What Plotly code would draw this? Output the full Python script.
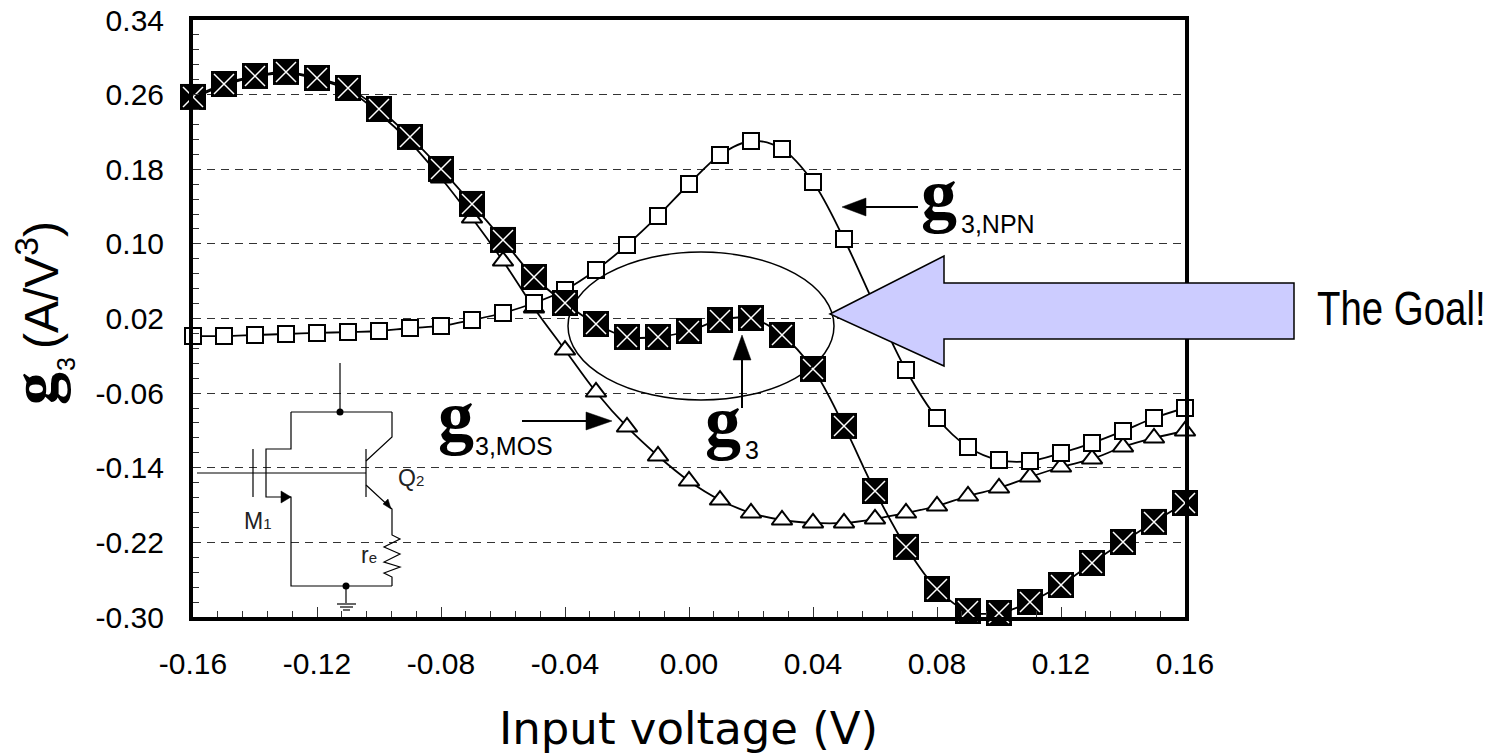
import plotly.graph_objects as go

voltage = [-0.16,-0.15,-0.14,-0.13,-0.12,-0.11,-0.10,-0.09,-0.08,-0.07,-0.06,-0.05,-0.04,-0.03,-0.02,-0.01,0.00,
           0.01,0.02,0.03,0.04,0.05,0.06,0.07,0.08,0.09,0.10,0.11,0.12,0.13,0.14,0.15,0.16]
g3_total = [0.2575,0.2714,0.2800,0.2843,0.2778,0.2671,0.2446,0.2146,0.1803,0.1428,0.1042,0.0645,0.0366,0.0141,0.0002,0.0002,0.0066,
            0.0184,0.0205,0.0023,-0.0341,-0.0952,-0.1649,-0.2249,-0.2700,-0.2936,-0.2957,-0.2839,-0.2657,-0.2421,-0.2196,-0.1981,-0.1778]
g3_npn = [0.0012,0.0012,0.0023,0.0034,0.0045,0.0055,0.0066,0.0098,0.0120,0.0184,0.0259,0.0366,0.0506,0.0720,0.0988,0.1299,0.1642,
          0.1953,0.2103,0.2017,0.1663,0.1052,0.0334,-0.0352,-0.0867,-0.1177,-0.1317,-0.1328,-0.1242,-0.1135,-0.1006,-0.0867,-0.0759]
g3_mos = [0.2560,0.2700,0.2790,0.2830,0.2765,0.2650,0.2400,0.2090,0.1706,0.1277,0.0816,0.0313,-0.0138,-0.0588,-0.0963,-0.1274,-0.1542,
          -0.1746,-0.1885,-0.1960,-0.1992,-0.1992,-0.1949,-0.1885,-0.1810,-0.1703,-0.1617,-0.1499,-0.1392,-0.1306,-0.1177,-0.1081,-0.1006]
x_ticks = [-0.16,-0.12,-0.08,-0.04,0.00,0.04,0.08,0.12,0.16]
x_labels = ["-0.16","-0.12","-0.08","-0.04","0.00","0.04","0.08","0.12","0.16"]
y_ticks = [-0.30,-0.22,-0.14,-0.06,0.02,0.10,0.18,0.26,0.34]
y_labels = ["-0.30","-0.22","-0.14","-0.06","0.02","0.10","0.18","0.26","0.34"]

W, H = 1498, 754
L, R, T, B = 193, 1185, 20, 617

def px(x): return (x - L) / (R - L)
def py(y): return (B - y) / (B - T)

fig = go.Figure()
fig.add_trace(go.Scatter(x=voltage, y=g3_mos, mode="lines+markers", line=dict(color="black", width=1.8, shape="spline"),
    marker=dict(symbol="triangle-up", size=18, color="white", line=dict(color="black", width=2)), cliponaxis=False, name="g3,MOS"))
fig.add_trace(go.Scatter(x=voltage, y=g3_npn, mode="lines+markers", line=dict(color="black", width=1.8, shape="spline"),
    marker=dict(symbol="square", size=16, color="white", line=dict(color="black", width=2)), cliponaxis=False, name="g3,NPN"))
fig.add_trace(go.Scatter(x=voltage, y=g3_total, mode="lines+markers", line=dict(color="black", width=1.8, shape="spline"),
    marker=dict(symbol="square", size=26, color="black"), cliponaxis=False, name="g3"))
fig.add_trace(go.Scatter(x=voltage, y=g3_total, mode="markers",
    marker=dict(symbol="x-thin-open", size=20, color="white", line=dict(color="white", width=1.5)), cliponaxis=False, showlegend=False))

shapes = []
def path(points, close=False, fill=None, color="black", width=1.5):
    d = "M " + " L ".join(f"{px(a):.5f} {py(b):.5f}" for a, b in points) + (" Z" if close else "")
    shapes.append(dict(type="path", path=d, xref="paper", yref="paper", fillcolor=fill or "rgba(0,0,0,0)",
                       line=dict(color=color, width=width), layer="above"))
def dot(a, b, r=3.5):
    shapes.append(dict(type="circle", xref="paper", yref="paper", x0=px(a-r), x1=px(a+r), y0=py(b+r), y1=py(b-r),
                       fillcolor="black", line=dict(color="black", width=0), layer="above"))

# circuit
for seg in [
    [(340,363),(340,412)], [(291,412),(392,412)], [(291,412),(291,449),(266,449),(266,497),(291,497),(291,586),(392,586)],
    [(253,449),(253,497)], [(197,473),(366,473)], [(366,449),(366,497)],
    [(366,461),(392,437),(392,412)], [(366,485),(392,509),(392,535),(400,539),(384,547),(400,554),(384,562),(400,567),(384,573),(392,577),(392,586)],
    [(346,586),(346,603)], [(337,604),(356,604)], [(340,607),(353,607)], [(343,610),(350,610)],
]:
    path(seg, width=1.2)
dot(340, 412); dot(346, 586)
path([(281,491),(291,497),(281,503)], close=True, fill="black", width=0.5)
path([(383,504),(391,509),(388,499)], close=True, fill="black", width=0.5)

# ellipse
shapes.append(dict(type="circle", xref="paper", yref="paper", x0=px(568), x1=px(834), y0=py(400), y1=py(252),
                   line=dict(color="black", width=1.5), layer="above"))
# big arrow
path([(830,314),(944,256),(944,283),(1294,283),(1294,339),(944,339),(944,366)], close=True, fill="#CCCCFF", width=1.5)
# small arrows
path([(918,207),(860,207)], width=2)
path([(842,207),(866,198),(866,216)], close=True, fill="black", width=0.5)
path([(522,421),(590,421)], width=2)
path([(612,421),(586,412),(586,430)], close=True, fill="black", width=0.5)
path([(742,408),(742,355)], width=2)
path([(742,335),(733,360),(751,360)], close=True, fill="black", width=0.5)

def note(x, y, text, size, family="Liberation Sans", anchor="left", angle=0, color="black", weight="normal"):
    fig.add_annotation(x=px(x), y=py(y), xref="paper", yref="paper", text=text, showarrow=False, xanchor=anchor,
                       yanchor="middle", textangle=angle, borderpad=0, borderwidth=0,
                       font=dict(family=family, size=size, color=color, weight=weight))

SERIF = "Liberation Serif"
SMALL = '<span style="font-size:15px">{}</span>'
note(921, 195, "g", 72, SERIF, weight="bold")
note(961, 224, "3,NPN", 25)
note(438, 417, "g", 72, SERIF, weight="bold")
note(475, 446, "3,MOS", 25)
note(705, 422, "g", 72, SERIF, weight="bold")
note(745, 450, "3", 25)
note(1317, 308, "The Goal!", 48)
note(244, 521, "M" + SMALL.format("1"), 23, color="#222")
note(398, 478, "Q" + SMALL.format("2"), 23, color="#222")
note(361, 555, "r" + SMALL.format("e"), 23, color="#222")
note(688, 728, "Input voltage (V)", 45, "DejaVu Sans", anchor="center")
note(34, 389, "g", 66, SERIF, angle=-90, anchor="center", weight="bold")
note(66, 364, "3", 25, angle=-90, anchor="center")
note(38, 285, "(A/V<sup>3</sup>)", 48, angle=-90, anchor="center")

axis = dict(showline=True, mirror=True, linecolor="black", linewidth=4, zeroline=False, ticks="inside", automargin=False,
            tickcolor="#333", tickwidth=1.3, tickfont=dict(family="Liberation Sans", size=30, color="black"))
fig.update_layout(
    width=W, height=H, margin=dict(l=L, r=W-R, t=T, b=H-B), paper_bgcolor="white", plot_bgcolor="white",
    showlegend=False, shapes=shapes,
    xaxis=dict(axis, range=[-0.16, 0.16], tickvals=x_ticks, ticktext=x_labels, showgrid=False, ticklen=10,
               ticklabelstandoff=17,
               minor=dict(dtick=0.008, tick0=-0.16, ticks="inside", ticklen=6, tickcolor="#333", tickwidth=1.3)),
    yaxis=dict(axis, range=[-0.30, 0.34], tickvals=y_ticks, ticktext=y_labels, showgrid=True, gridcolor="#333", ticklen=6,
               gridwidth=1, griddash="8px,6px", ticklabelstandoff=19,
               minor=dict(dtick=0.016, tick0=-0.30, ticks="inside", ticklen=6, tickcolor="#333", tickwidth=1.3)),
)
POST = """
document.body.style.margin='0';
document.querySelectorAll('.annotation-text').forEach(function(t){
  if(t.textContent==='The Goal!'){
    var b=t.getBBox();
    t.setAttribute('transform','translate('+b.x+',0) scale(0.8,1) translate('+(-b.x)+',0)');
  }
});
"""
fig.write_html("out.html", post_script=POST, config=dict(displayModeBar=False))
